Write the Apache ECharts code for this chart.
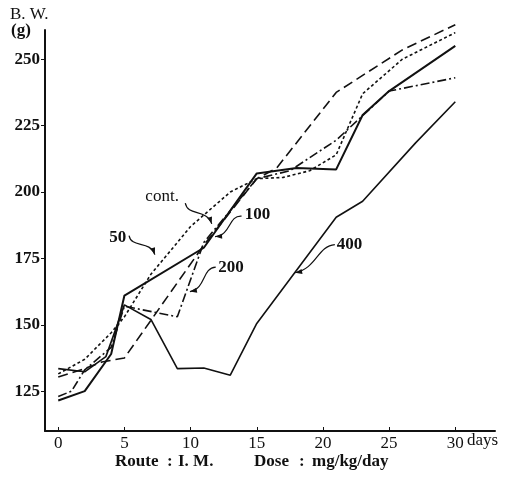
<!DOCTYPE html>
<html><head><meta charset="utf-8">
<script src="https://cdn.jsdelivr.net/npm/echarts@6/dist/echarts.min.js"></script>
<style>html,body{margin:0;padding:0;background:#fff}#c{width:505px;height:484px}</style>
</head><body><div id="c"></div>
<script>
// ---- data (days, body weight g) ----
const xTicks = [0, 5, 10, 15, 20, 25, 30];
const yTicks = [125, 150, 175, 200, 225, 250];

const contDays = [0, 2, 4, 5, 11, 15, 18, 21, 23, 25, 30];
const contBW   = [121.5, 125, 139, 161, 179, 207, 209, 208.5, 229, 238, 255];

const d50Days = [0, 2, 4, 5, 7, 10, 13, 15, 17, 19, 21, 23, 26, 30];
const d50BW   = [131.5, 137, 147, 153, 169, 187, 200, 205, 205.5, 208, 214, 237, 250, 260];

const d100Days = [0, 2, 3.3, 5, 11, 15, 16.5, 21, 26, 30];
const d100BW   = [130.3, 133.5, 136, 137.5, 180, 205, 209, 237.5, 253.5, 263];

const d200Days = [0, 1, 2, 4, 5, 9, 11, 15, 17.5, 21, 25, 30];
const d200BW   = [123, 125, 133, 141.5, 157, 153, 181, 205, 208, 219.5, 238, 243];

const d400Days = [0, 2, 3.6, 5, 7, 9, 11, 13, 15, 21, 23, 27, 30];
const d400BW   = [133.5, 132.3, 138, 157.5, 152, 133.5, 133.7, 131, 150.5, 190.5, 196.5, 218.5, 234];

// annotation labels (data coordinates): text centre, arrow start, arrow tip
const notes = [
  {text: 'cont.', at: [7.85, 198.4], from: [9.6, 195.8], to: [11.6, 188.0], bold: false},
  {text: '50',    at: [4.5, 183.0], from: [5.35, 183.6], to: [7.3, 176.4], bold: true},
  {text: '100',   at: [15.05, 191.6], from: [13.85, 190.9], to: [11.85, 183.2], bold: true},
  {text: '200',   at: [13.05, 171.7], from: [11.9, 171.7], to: [9.95, 162.5], bold: true},
  {text: '400',   at: [22.0, 180.2], from: [20.9, 180.2], to: [17.9, 169.6], bold: true}
];

const zip = (a, b) => a.map((d, i) => [d, b[i]]);
const FONT = '"Liberation Serif", "DejaVu Serif", serif';

const chart = echarts.init(document.getElementById('c'), null, {renderer: 'canvas'});

function mk(name, days, bw, width, type) {
  return {
    name, type: 'line', data: zip(days, bw), symbol: 'none', clip: false,
    lineStyle: {color: '#111', width: width, type: type}
  };
}

chart.setOption({
  backgroundColor: '#fff',
  animation: false,
  grid: {left: 45, top: 30, width: 450, height: 401, containLabel: false},
  xAxis: {
    type: 'value', min: -1, max: 33,
    axisLine: {onZero: false, lineStyle: {color: '#111', width: 2}},
    axisTick: {inside: true, length: 4, customValues: xTicks, lineStyle: {color: '#111', width: 1}},
    axisLabel: {customValues: xTicks, color: '#111', fontFamily: FONT, fontSize: 17, margin: 4},
    splitLine: {show: false}
  },
  yAxis: {
    type: 'value', min: 110, max: 261,
    axisLine: {show: true, onZero: false, lineStyle: {color: '#111', width: 2}},
    axisTick: {show: true, inside: false, length: 4, customValues: yTicks, lineStyle: {color: '#111', width: 1}},
    axisLabel: {customValues: yTicks, color: '#111', fontFamily: FONT, fontSize: 17, fontWeight: 'bold', margin: 5},
    splitLine: {show: false}
  },
  series: [
    mk('cont.', contDays, contBW, 2, 'solid'),
    mk('50', d50Days, d50BW, 1.6, [3, 2.5]),
    mk('100', d100Days, d100BW, 1.6, [10, 5]),
    mk('200', d200Days, d200BW, 1.6, [9, 3, 2, 3]),
    mk('400', d400Days, d400BW, 1.6, 'solid')
  ]
});

function px(p) { return chart.convertToPixel({gridIndex: 0}, p); }

const g = [];
notes.forEach(n => {
  const c = px(n.at), s = px(n.from), e = px(n.to);
  g.push({
    type: 'text', x: c[0], y: c[1],
    style: {text: n.text, fill: '#111', font: (n.bold ? 'bold 17px ' : '17px ') + FONT,
            align: 'center', verticalAlign: 'middle'}
  });
  const dx = e[0] - s[0], dy = e[1] - s[1], L = Math.hypot(dx, dy);
  const nx = -dy / L, ny = dx / L, k = 9;
  const c1 = [s[0] + dx * 0.3 + nx * k, s[1] + dy * 0.3 + ny * k];
  const c2 = [s[0] + dx * 0.6 - nx * k, s[1] + dy * 0.6 - ny * k];
  g.push({
    type: 'bezierCurve',
    shape: {x1: s[0], y1: s[1], x2: e[0], y2: e[1], cpx1: c1[0], cpy1: c1[1], cpx2: c2[0], cpy2: c2[1]},
    style: {stroke: '#111', lineWidth: 1.2, fill: null}
  });
  const ax = e[0] - c2[0], ay = e[1] - c2[1], al = Math.hypot(ax, ay);
  const ux = ax / al, uy = ay / al, h = 7, w = 2.5;
  g.push({
    type: 'polygon',
    shape: {points: [[e[0], e[1]], [e[0] - ux * h + uy * w, e[1] - uy * h - ux * w], [e[0] - ux * h - uy * w, e[1] - uy * h + ux * w]]},
    style: {fill: '#111'}
  });
});

g.push({type: 'text', x: 10, y: 6, style: {text: 'B. W.', fill: '#111', font: '17px ' + FONT}});
g.push({type: 'text', x: 11, y: 22, style: {text: '(g)', fill: '#111', font: 'bold 17px ' + FONT}});
g.push({type: 'text', x: 467, y: 432, style: {text: 'days', fill: '#111', font: '17px ' + FONT}});

// bottom caption
const cap = [['Route', 115], [':', 167], ['I. M.', 178], ['Dose', 254], [':', 299], ['mg/kg/day', 312]];
cap.forEach(([t, x]) => g.push({type: 'text', x: x, y: 462,
  style: {text: t, fill: '#111', font: 'bold 17px ' + FONT, verticalAlign: 'middle'}}));

chart.setOption({graphic: {elements: g}});
</script>
</body></html>
